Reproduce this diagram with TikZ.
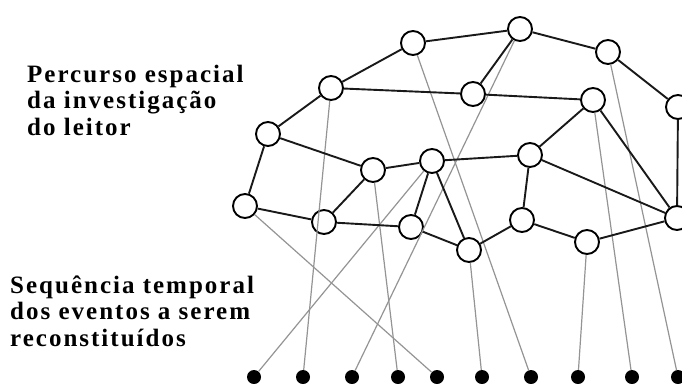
\documentclass[tikz,border=0pt]{standalone}
\usepackage{fontspec}
\setmainfont{Liberation Serif}
\begin{document}
\begin{tikzpicture}[x=1pt,y=-1pt,
  place/.style={circle,draw=black,fill=white,line width=1.9pt,inner sep=0pt,minimum size=24pt},
  event/.style={circle,fill=black,inner sep=0pt,minimum size=14pt},
  link/.style={line width=1.9pt,black!90},
  trace/.style={line width=1.2pt,black!42},
  caption/.style={anchor=base west,align=left,inner sep=0pt,
    font=\fontsize{25}{26.5}\selectfont\bfseries\addfontfeature{LetterSpace=8}}]
\useasboundingbox (0,0) rectangle (682,383);

% labels (anchored at the baseline of their last line)
\node[caption] (top) at (27,135) {Percurso espacial\\da investigação\\do leitor};
\node[caption] (bottom) at (10,346) {Sequência temporal\\dos eventos a serem\\reconstituídos};

% the network of places
\node[place] (A) at (413,43) {};
\node[place] (B) at (331,88) {};
\node[place] (C) at (268,134) {};
\node[place] (D) at (373,170) {};
\node[place] (E) at (432,161) {};
\node[place] (F) at (245,206) {};
\node[place] (G) at (520,29) {};
\node[place] (H) at (608,52) {};
\node[place] (I) at (473,94) {};
\node[place] (J) at (593,100) {};
\node[place] (K) at (678,107) {};
\node[place] (L) at (530,155) {};
\node[place] (M) at (324,222) {};
\node[place] (N) at (411,227) {};
\node[place] (O) at (469,250) {};
\node[place] (P) at (522,220) {};
\node[place] (Q) at (587,242) {};
\node[place] (R) at (677,218) {};

% the row of events
\foreach \i/\x in {1/254,2/303,3/352,4/398,5/437,6/482,7/531,8/578,9/632,10/678}
  \node[event] (e\i) at (\x,377) {};

% threads from places down to events
\draw[trace] (E) -- (e1);
\draw[trace] (B) -- (e2);
\draw[trace] (G) -- (e3);
\draw[trace] (D) -- (e4);
\draw[trace] (F) -- (e5);
\draw[trace] (O) -- (e6);
\draw[trace] (A) -- (e7);
\draw[trace] (Q) -- (e8);
\draw[trace] (J) -- (e9);
\draw[trace] (H) -- (e10);

% links between places
\foreach \a/\b in {F/C,C/B,C/D,B/A,B/I,A/G,G/I,G/H,H/K,I/J,J/L,J/R,K/R,
                   L/E,L/R,L/P,E/D,E/N,E/O,D/M,F/M,M/N,N/O,O/P,P/Q,Q/R}
  \draw[link] (\a) -- (\b);
\end{tikzpicture}
\end{document}
